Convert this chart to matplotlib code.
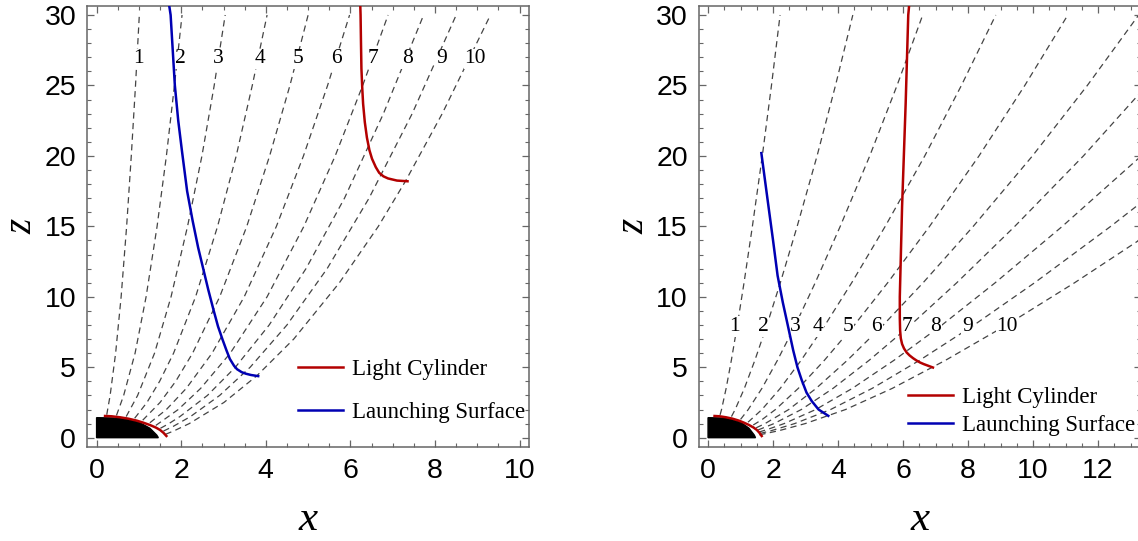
import matplotlib.pyplot as plt
from matplotlib.ticker import MultipleLocator

# ---- black hole (horizon) + ergosphere, same shape in both panels ----
horizon_x = [0, 0, 0.39, 0.71, 1.02, 1.26, 1.42, 1.46]
horizon_z = [0, 1.42, 1.40, 1.30, 1.07, 0.67, 0.19, 0]
ergo_x = [0.20, 0.35, 0.55, 0.75, 0.95, 1.10, 1.26, 1.40, 1.50, 1.58, 1.65]
ergo_z = [1.54, 1.52, 1.45, 1.35, 1.21, 1.07, 0.90, 0.72, 0.55, 0.35, 0.12]

# ---- left panel: field lines 1..10 ----
left_lines = [
    ([0.24, 0.32, 0.45, 0.58, 0.71, 0.82, 0.92, 1.01], [1.63, 3, 6, 10, 15, 20, 25, 30]),
    ([0.47, 0.64, 0.91, 1.17, 1.43, 1.65, 1.84, 2.02], [1.58, 3, 6, 10, 15, 20, 25, 30]),
    ([0.70, 0.97, 1.37, 1.76, 2.15, 2.49, 2.78, 3.04], [1.50, 3, 6, 10, 15, 20, 25, 30]),
    ([0.90, 1.19, 1.49, 1.82, 2.34, 2.86, 3.30, 3.68, 4.03], [1.38, 2.5, 4, 6, 10, 15, 20, 25, 30]),
    ([1.09, 1.50, 1.87, 2.27, 2.91, 3.55, 4.09, 4.57, 5.00], [1.24, 2.5, 4, 6, 10, 15, 20, 25, 30]),
    ([1.26, 1.65, 2.12, 2.73, 3.49, 4.25, 4.89, 5.46, 5.98], [1.06, 2, 3.5, 6, 10, 15, 20, 25, 30]),
    ([1.40, 1.93, 2.46, 3.16, 4.03, 4.90, 5.64, 6.29, 6.89], [0.87, 2, 3.5, 6, 10, 15, 20, 25, 30]),
    ([1.51, 1.71, 1.97, 2.62, 3.28, 4.08, 4.95, 5.86, 6.78, 7.73], [0.67, 1, 1.5, 3, 5, 8, 12, 17, 23, 30]),
    ([1.58, 1.81, 2.22, 2.91, 3.63, 4.50, 5.45, 6.44, 7.46, 8.50], [0.47, 0.8, 1.5, 3, 5, 8, 12, 17, 23, 30]),
    ([1.63, 1.84, 2.19, 3.01, 3.79, 4.66, 5.74, 6.66, 7.30, 8.17, 9.31], [0.24, 0.5, 1, 2.5, 4.4, 7, 11, 15, 18.2, 23, 30]),
]
left_lc_x = [6.23, 6.24, 6.25, 6.26, 6.28, 6.30, 6.34, 6.39, 6.45, 6.51, 6.60, 6.68, 6.78, 6.89, 7.10, 7.35]
left_lc_z = [31.0, 30.0, 28.0, 26.2, 24.8, 23.7, 22.4, 21.3, 20.4, 19.8, 19.2, 18.8, 18.55, 18.4, 18.25, 18.2]
left_ls_x = [1.70, 1.75, 1.80, 1.85, 1.93, 2.02, 2.14, 2.27, 2.40, 2.52, 2.64, 2.77, 2.87,
             2.98, 3.07, 3.15, 3.25, 3.32, 3.43, 3.53, 3.65, 3.82]
left_ls_z = [31.0, 30.0, 27.5, 25.0, 22.5, 20.3, 17.5, 15.4, 13.5, 12.0, 10.5, 9.0, 7.9,
             6.94, 6.2, 5.59, 5.1, 4.86, 4.65, 4.54, 4.45, 4.37]
left_lbl_x = [1.00, 1.97, 2.87, 3.87, 4.77, 5.66, 6.54, 7.35, 8.15, 8.95]
left_lbl_z = 26.9

# ---- right panel: field lines 1..10 ----
right_lines = [
    ([0.37, 0.415, 0.556, 0.717, 0.901, 1.107, 1.364, 1.669, 1.951, 2.216], [1.62, 2, 3.5, 5.5, 8, 11, 15, 20, 25, 30]),
    ([0.72, 0.834, 1.117, 1.441, 1.812, 2.224, 2.742, 3.354, 3.921, 4.454], [1.5, 2, 3.5, 5.5, 8, 11, 15, 20, 25, 30]),
    ([1.00, 1.237, 1.657, 2.137, 2.687, 3.298, 4.067, 4.975, 5.815, 6.605], [1.3, 2, 3.5, 5.5, 8, 11, 15, 20, 25, 30]),
    ([1.23, 1.658, 2.221, 2.865, 3.601, 4.421, 5.451, 6.668, 7.795, 8.853], [1.1, 2, 3.5, 5.5, 8, 11, 15, 20, 25, 30]),
    ([1.39, 1.67, 2.074, 2.777, 3.582, 4.503, 5.528, 6.816, 8.337, 9.746, 11.07], [0.9, 1.3, 2, 3.5, 5.5, 8, 11, 15, 20, 25, 30]),
    ([1.48, 1.753, 2.483, 3.325, 4.289, 5.391, 6.618, 8.160, 9.982, 11.67, 13.25], [0.7, 1, 2, 3.5, 5.5, 8, 11, 15, 20, 25, 30]),
    ([1.54, 2.028, 2.871, 3.846, 4.960, 6.235, 7.654, 9.438, 11.55, 13.50], [0.55, 1, 2, 3.5, 5.5, 8, 11, 15, 20, 25]),
    ([1.57, 1.848, 2.341, 3.315, 4.440, 5.726, 7.198, 8.837, 10.90, 13.33, 15.58], [0.4, 0.6, 1, 2, 3.5, 5.5, 8, 11, 15, 20, 25]),
    ([1.60, 1.948, 2.663, 3.771, 5.050, 6.513, 8.187, 10.05, 12.39, 15.16], [0.3, 0.5, 1, 2, 3.5, 5.5, 8, 11, 15, 20]),
    ([1.58, 2.186, 2.989, 4.232, 5.668, 7.311, 9.190, 11.28, 13.91], [0.2, 0.5, 1, 2, 3.5, 5.5, 8, 11, 15]),
]
right_lc_x = [6.20, 6.16, 6.08, 5.97, 5.90, 5.90, 5.91, 5.93, 5.97, 6.03, 6.11, 6.20, 6.31, 6.42, 6.53, 6.64, 6.78, 6.92]
right_lc_z = [31.0, 30.0, 23.7, 16.4, 10.0, 8.5, 7.6, 7.06, 6.65, 6.33, 6.05, 5.84, 5.64, 5.47, 5.33, 5.22, 5.10, 4.98]
right_ls_x = [1.64, 1.75, 1.86, 2.00, 2.14, 2.30, 2.47, 2.62, 2.75, 2.88, 3.03, 3.19, 3.40, 3.70]
right_ls_z = [20.2, 18.3, 16.4, 14.0, 11.5, 9.6, 7.8, 6.2, 5.0, 4.1, 3.2, 2.6, 2.0, 1.55]
right_lbl_x = [0.80, 1.69, 2.69, 3.39, 4.30, 5.19, 6.12, 7.01, 7.98, 9.20]
right_lbl_z = 7.9

line_labels = [str(i) for i in range(1, 11)]

RED = "#b30000"
BLUE = "#0000b3"
FRAME = "#666666"
SERIF = "Liberation Serif"


def draw_panel(ax, lines, lbl_x, lbl_z, lc_x, lc_z, ls_x, ls_z, xlim, leg_anchor, leg_spacing):
    for xs, zs in lines:
        ax.plot(xs, zs, color="#444444", lw=0.9, dashes=(5, 3.5), zorder=1)
    for lx, lab in zip(lbl_x, line_labels):
        ax.text(lx, lbl_z, lab, family=SERIF, fontsize=15.5, ha="center", va="center",
                zorder=2, bbox=dict(facecolor="white", edgecolor="none", pad=0.5))
    ax.fill(horizon_x, horizon_z, color="black", zorder=3)
    ax.plot(ergo_x, ergo_z, color=RED, lw=1.8, zorder=4)
    lc, = ax.plot(lc_x, lc_z, color=RED, lw=1.8, zorder=4)
    ls, = ax.plot(ls_x, ls_z, color=BLUE, lw=1.8, zorder=4)

    ax.set_xlim(*xlim)
    ax.set_ylim(-0.64, 30.64)
    ax.xaxis.set_major_locator(MultipleLocator(2))
    ax.xaxis.set_minor_locator(MultipleLocator(0.5))
    ax.yaxis.set_major_locator(MultipleLocator(5))
    ax.yaxis.set_minor_locator(MultipleLocator(1))
    ax.tick_params(which="both", direction="in", top=True, right=True, color=FRAME,
                   labelsize=20.5, pad=8)
    ax.tick_params(which="major", length=5, width=0.9)
    ax.tick_params(which="minor", length=2.8, width=0.8)
    for lab in ax.get_xticklabels() + ax.get_yticklabels():
        lab.set_family("Liberation Sans")
    for sp in ax.spines.values():
        sp.set_color(FRAME)
        sp.set_linewidth(1.1)

    ax.set_xlabel("x", family=SERIF, style="italic", fontsize=31)
    ax.set_ylabel("z", family=SERIF, style="italic", fontsize=28)
    ax.xaxis.set_label_coords(0.5, -0.166)
    ax.xaxis.label.set_va("center")
    ax.yaxis.set_label_coords(-0.148, 0.5)
    ax.yaxis.label.set_va("center")

    ax.legend([lc, ls], ["Light Cylinder", "Launching Surface"], loc="center left",
              bbox_to_anchor=leg_anchor, frameon=False, borderpad=0, borderaxespad=0,
              handlelength=1.95, handletextpad=0.4, labelspacing=leg_spacing,
              prop={"family": SERIF, "size": 16.5})


fig = plt.figure(figsize=(11.38, 5.41), dpi=100)
ax1 = fig.add_axes([0.0767, 0.1743, 0.3881, 0.8146])
ax2 = fig.add_axes([0.6142, 0.1743, 0.3881, 0.8146])

draw_panel(ax1, left_lines, left_lbl_x, left_lbl_z, left_lc_x, left_lc_z,
           left_ls_x, left_ls_z, (-0.22, 10.22), (0.478, 0.1265), 0.98)
draw_panel(ax2, right_lines, right_lbl_x, right_lbl_z, right_lc_x, right_lc_z,
           right_ls_x, right_ls_z, (-0.28, 13.31), (0.473, 0.080), 0.30)

fig.savefig("out.png", dpi=100)
